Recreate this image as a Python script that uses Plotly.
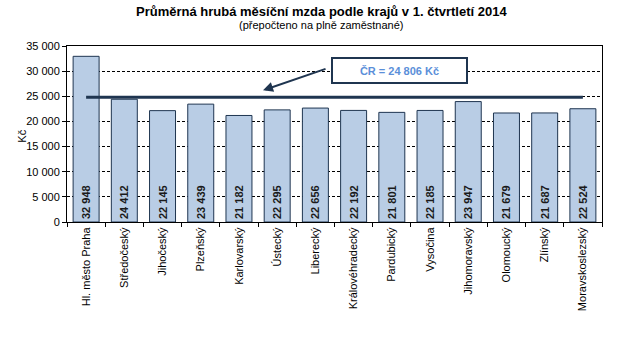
import plotly.graph_objects as go

regions = ["Hl. město Praha", "Středočeský", "Jihočeský", "Plzeňský", "Karlovarský",
           "Ústecký", "Liberecký", "Královéhradecký", "Pardubický", "Vysočina",
           "Jihomoravský", "Olomoucký", "Zlínský", "Moravskoslezský"]
wages = [32948, 24412, 22145, 23439, 21182, 22295, 22656, 22192, 21801, 22185,
         23947, 21679, 21687, 22524]
cr_average = 24806
y_ticks = [0, 5000, 10000, 15000, 20000, 25000, 30000, 35000]

title_text = "Průměrná hrubá měsíční mzda podle krajů v 1. čtvrtletí 2014"
subtitle_text = "(přepočteno na plně zaměstnané)"
box_text = "ČR = 24 806 Kč"
y_label = "Kč"

FONT = "Liberation Sans, Arial, sans-serif"
NAVY = "#1F3550"

def fmt(v):
    return f"{v:,}".replace(",", " ")

fig = go.Figure()
fig.add_trace(go.Bar(
    x=regions, y=wages,
    marker=dict(color="#B9CDE5", line=dict(color=NAVY, width=1)),
    text=[fmt(v) for v in wages],
    textposition="inside", insidetextanchor="start", textangle=-90,
    textfont=dict(family=FONT, size=11, color="#1a1a1a", weight="bold"),
    hoverinfo="x+y",
))
fig.add_trace(go.Scatter(
    x=[regions[0], regions[-1]], y=[cr_average, cr_average],
    mode="lines", line=dict(color=NAVY, width=3), hoverinfo="y",
))

fig.update_layout(
    width=618, height=341,
    margin=dict(l=67, r=16, t=46, b=119),
    paper_bgcolor="white", plot_bgcolor="white",
    showlegend=False, bargap=0.32,
    separators=", ",
    font=dict(family=FONT, size=11, color="#000000"),
    xaxis=dict(
        automargin=False,
        tickangle=-90, tickson="boundaries", ticks="outside", ticklen=4,
        tickcolor="#000", showline=True, linecolor="#000", linewidth=1, mirror=True,
        showgrid=False, tickfont=dict(size=11),
    ),
    yaxis=dict(
        automargin=False,
        range=[0, 35000], tickvals=y_ticks, tickformat=",d",
        ticks="outside", ticklen=4, tickcolor="#000",
        showline=True, linecolor="#000", linewidth=1, mirror=True,
        showgrid=True, gridcolor="#000", griddash="3px,2px", gridwidth=1,
        zeroline=False, tickfont=dict(size=11),
    ),
    annotations=[
        dict(text=f"<b>{title_text}</b>", xref="paper", yref="paper", x=0.475, y=1.0,
             yshift=35, showarrow=False, xanchor="center", yanchor="middle",
             font=dict(size=13, color="#000")),
        dict(text=subtitle_text, xref="paper", yref="paper", x=0.475, y=1.0,
             yshift=21, showarrow=False, xanchor="center", yanchor="middle",
             font=dict(size=11, color="#000")),
        dict(text=y_label, xref="paper", yref="paper", x=0, y=0.485, xshift=-45,
             textangle=-90, showarrow=False, xanchor="center", yanchor="middle",
             font=dict(size=11, color="#000")),
        dict(text=f"<b>{box_text}</b>", xref="paper", yref="paper", x=0.6215, y=0.861,
             showarrow=False, xanchor="center", yanchor="middle",
             width=133, height=23, borderwidth=2, borderpad=0,
             bordercolor=NAVY, bgcolor="white",
             font=dict(size=11, color="#5B8FD9")),
        dict(text="", x=4.63, y=26180, xref="x", yref="y",
             showarrow=True, arrowhead=2, arrowsize=1, arrowwidth=2, arrowcolor=NAVY,
             ax=64, ay=-22, standoff=0),
    ],
)

fig.write_html("out.html")
